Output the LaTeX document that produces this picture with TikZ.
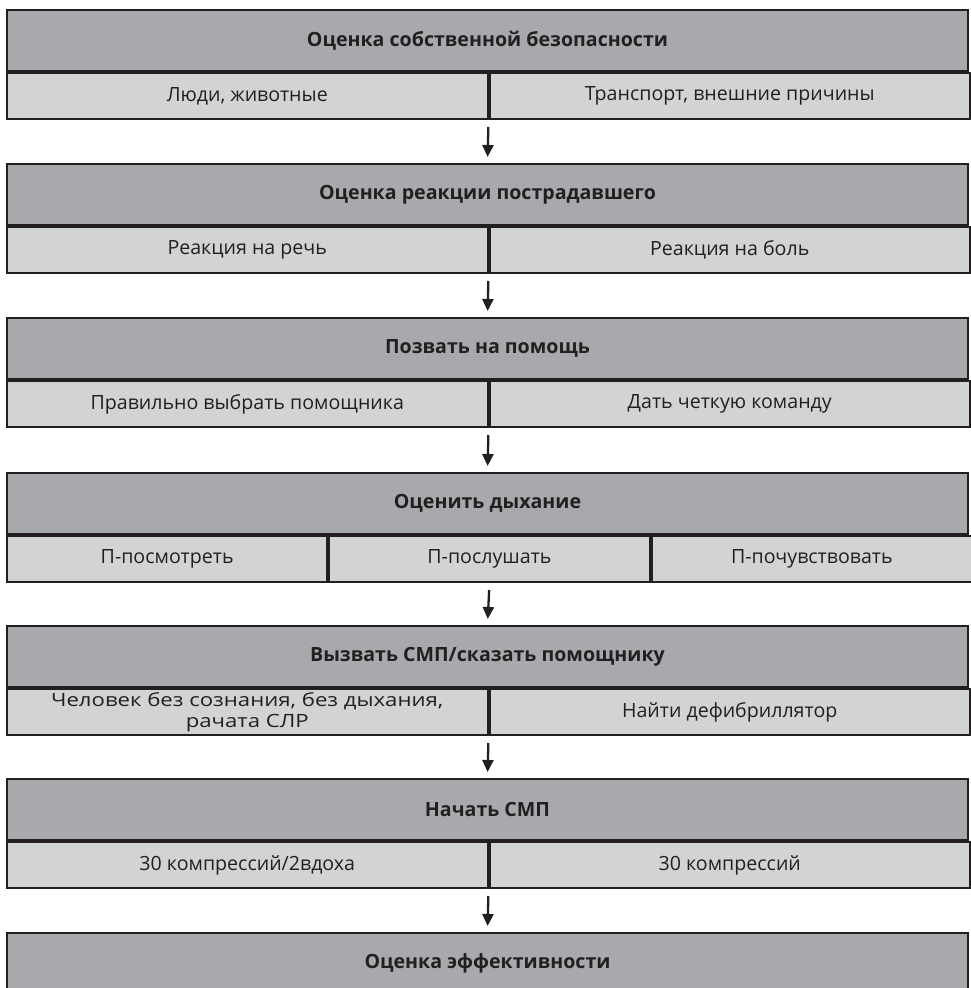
\documentclass[tikz,border=0pt]{standalone}
\usepackage{fontspec}
\setmainfont{Open Sans}
\newfontfamily\widefont[FakeStretch=1.21]{Open Sans}
\usepackage{tikz}
\usetikzlibrary{arrows.meta,positioning}
\usepackage{xcolor}
\definecolor{headgray}{HTML}{A7A9AC}
\definecolor{subgray}{HTML}{D1D3D4}
\definecolor{inkdark}{HTML}{231F20}
\newcommand{\headfont}{\fontsize{19.6}{22}\selectfont\bfseries}
\newcommand{\subfont}{\fontsize{19.6}{22}\selectfont}

\begin{document}
\begin{tikzpicture}[x=1pt, y=-1pt,
  headbox/.style={draw=inkdark, line width=2pt, fill=headgray, text=inkdark,
                  minimum width=961pt, minimum height=61pt, inner sep=0pt,
                  anchor=north, font=\headfont},
  subbox/.style={draw=inkdark, line width=2pt, fill=subgray, text=inkdark,
                 minimum height=46pt, inner sep=0pt, anchor=north west,
                 font=\subfont},
  halfbox/.style={subbox, minimum width=480.5pt},
  thirdbox/.style={subbox, minimum width=320.33pt},
  flow/.style={draw=inkdark, line width=2.3pt,
               -{Triangle[length=12pt, width=11pt]},
               shorten <=7pt, shorten >=6pt}]
  \useasboundingbox (0,0) rectangle (971,988);
  \clip (0,0) rectangle (971,988);

  %% Block 1: own safety
  \node[headbox] (h1) at (487.5,9) {Оценка собственной безопасности};
  \node[halfbox] (s11) at (h1.south west) {Люди, животные};
  \node[halfbox] (s12) at (s11.north east) {Транспорт, внешние причины};

  %% Block 2: reaction of the victim
  \node[headbox] (h2) at (487.5,163) {Оценка реакции пострадавшего};
  \node[halfbox] (s21) at (h2.south west) {Реакция на речь};
  \node[halfbox] (s22) at (s21.north east) {Реакция на боль};

  %% Block 3: call for help
  \node[headbox] (h3) at (487.5,317) {Позвать на помощь};
  \node[halfbox] (s31) at (h3.south west) {Правильно выбрать помощника};
  \node[halfbox] (s32) at (s31.north east) {Дать четкую команду};

  %% Block 4: breathing (three cells)
  \node[headbox] (h4) at (487.5,472) {Оценить дыхание};
  \node[thirdbox] (s41) at (h4.south west) {П-посмотреть};
  \node[thirdbox] (s42) at (s41.north east) {П-послушать};
  \node[thirdbox] (s43) at (s42.north east) {П-почувствовать};

  %% Block 5: call the ambulance
  \node[headbox] (h5) at (487.5,625) {Вызвать СМП/сказать помощнику};
  \node[halfbox, align=center, font=\widefont\fontsize{18.3}{21}\selectfont] (s51)
    at (h5.south west) {Человек без сознания, без дыхания,\\рачата СЛР};
  \node[halfbox] (s52) at (s51.north east) {Найти дефибриллятор};

  %% Block 6: start
  \node[headbox] (h6) at (487.5,778) {Начать СМП};
  \node[halfbox] (s61) at (h6.south west) {30 компрессий/2вдоха};
  \node[halfbox] (s62) at (s61.north east) {30 компрессий};

  %% Block 7: efficiency (runs off the page)
  \node[headbox] (h7) at (487.5,932) {Оценка эффективности};

  %% Arrows between blocks
  \draw[flow] (s11.south east) -- (h2.north);
  \draw[flow] (s21.south east) -- (h3.north);
  \draw[flow] (s31.south east) -- (h4.north);
  \draw[flow] (s42.south) -- (h5.north);
  \draw[flow] (s51.south east) -- (h6.north);
  \draw[flow] (s61.south east) -- (h7.north);
\end{tikzpicture}
\end{document}
